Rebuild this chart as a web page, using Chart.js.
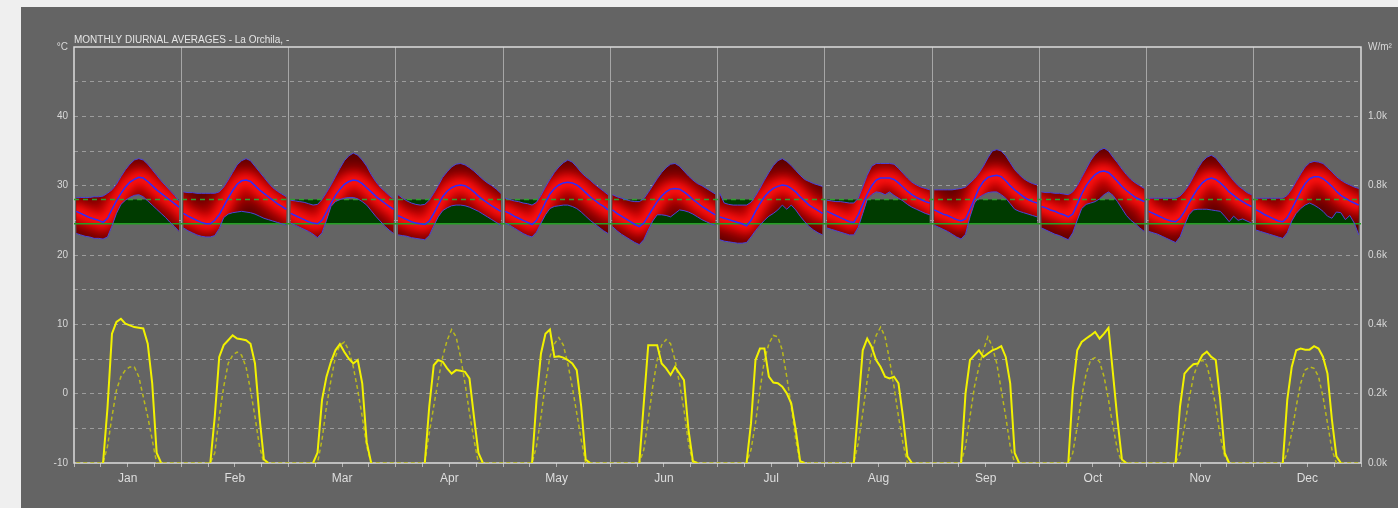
<!DOCTYPE html>
<html>
<head>
<meta charset="utf-8">
<title>Monthly Diurnal Averages - La Orchila</title>
<script src="https://cdn.jsdelivr.net/npm/chart.js@4.4.1/dist/chart.umd.min.js"></script>
<style>
  html, body { margin: 0; padding: 0; background: #efefef; }
  #wrap { width: 1398px; height: 508px; position: relative; }
</style>
</head>
<body>
<div id="wrap"><canvas id="diurnalChart"></canvas></div>
<script>
const titleText = 'MONTHLY DIURNAL AVERAGES - La Orchila, -';
const months = ['Jan', 'Feb', 'Mar', 'Apr', 'May', 'Jun', 'Jul', 'Aug', 'Sep', 'Oct', 'Nov', 'Dec'];
const hours = [0, 1, 2, 3, 4, 5, 6, 7, 8, 9, 10, 11, 12, 13, 14, 15, 16, 17, 18, 19, 20, 21, 22, 23];

// comfort band, deg C
const comfortUpper = 28.0;
const comfortLower = 24.5;

// hourly temperatures per month, deg C
const tempMax = [
    [28.3, 28.3, 28.3, 28.3, 28.4, 28.4, 28.5, 28.9, 29.4, 30.2, 31.3, 32.3, 33.1, 33.7, 33.9, 33.7, 33.1, 32.3, 31.5, 30.7, 30.0, 29.3, 28.6, 27.8],
    [29.1, 29.0, 29.0, 28.9, 28.9, 28.9, 28.9, 28.9, 29.1, 29.8, 30.8, 31.9, 33.0, 33.6, 33.9, 33.6, 32.8, 32.0, 31.2, 30.4, 29.7, 29.2, 28.8, 28.4],
    [27.9, 27.8, 27.7, 27.6, 27.4, 27.2, 27.3, 28.0, 29.0, 30.1, 31.3, 32.5, 33.6, 34.3, 34.7, 34.4, 33.7, 32.8, 31.6, 30.6, 29.8, 29.2, 28.6, 28.1],
    [28.7, 28.2, 27.8, 27.5, 27.3, 27.2, 27.3, 27.9, 28.9, 30.0, 31.2, 32.0, 32.7, 33.1, 33.2, 33.0, 32.6, 32.1, 31.5, 30.9, 30.4, 30.0, 29.5, 28.9],
    [28.2, 28.0, 27.8, 27.7, 27.5, 27.4, 27.2, 27.6, 28.6, 29.8, 30.9, 31.9, 32.7, 33.3, 33.7, 33.4, 32.7, 31.9, 31.3, 30.8, 30.2, 29.7, 29.2, 28.7],
    [28.7, 28.4, 28.2, 28.0, 27.8, 27.7, 27.7, 28.1, 29.0, 30.0, 31.0, 31.9, 32.6, 33.1, 33.2, 32.8, 32.1, 31.4, 30.8, 30.3, 30.0, 29.6, 29.2, 28.8],
    [28.9, 27.5, 27.3, 27.2, 27.2, 27.2, 27.2, 27.6, 28.5, 29.6, 30.8, 31.9, 32.9, 33.6, 33.9, 33.5, 32.9, 32.2, 31.5, 30.9, 30.6, 30.3, 30.1, 29.9],
    [27.9, 27.8, 27.7, 27.7, 27.6, 27.5, 27.5, 28.2, 29.8, 31.5, 32.8, 33.2, 33.2, 33.2, 33.2, 33.1, 32.5, 31.8, 31.1, 30.5, 30.1, 29.8, 29.6, 29.4],
    [29.4, 29.4, 29.4, 29.4, 29.4, 29.5, 29.6, 29.8, 30.4, 31.0, 31.8, 32.8, 34.0, 35.0, 35.2, 35.0, 34.3, 33.3, 32.3, 31.6, 31.0, 30.6, 30.3, 30.1],
    [29.1, 29.0, 29.0, 28.9, 28.9, 28.8, 28.7, 29.1, 30.0, 31.2, 32.4, 33.6, 34.5, 35.1, 35.4, 35.0, 34.1, 33.3, 32.4, 31.6, 30.9, 30.4, 30.0, 29.6],
    [28.2, 28.2, 28.2, 28.2, 28.2, 28.2, 28.2, 28.5, 29.2, 30.1, 31.3, 32.5, 33.5, 34.1, 34.4, 34.0, 33.2, 32.4, 31.5, 30.7, 30.0, 29.5, 29.0, 28.7],
    [28.2, 28.2, 28.2, 28.2, 28.2, 28.2, 28.2, 28.6, 29.5, 30.6, 31.7, 32.7, 33.3, 33.5, 33.4, 33.2, 32.6, 32.0, 31.3, 30.8, 30.4, 30.1, 29.8, 29.6]
];
const tempAvg = [
    [26.3, 26.0, 25.7, 25.4, 25.2, 25.0, 24.7, 25.3, 26.6, 27.8, 28.9, 29.8, 30.5, 30.9, 31.2, 31.1, 30.6, 30.0, 29.4, 28.9, 28.4, 27.9, 27.4, 26.9],
    [26.0, 25.6, 25.3, 25.0, 24.7, 24.5, 24.5, 25.0, 25.8, 27.0, 28.2, 29.3, 30.2, 30.7, 30.8, 30.6, 30.0, 29.4, 28.9, 28.4, 27.9, 27.4, 27.0, 26.6],
    [26.0, 25.7, 25.4, 25.1, 24.8, 24.6, 24.5, 25.0, 26.2, 27.4, 28.6, 29.5, 30.2, 30.6, 30.8, 30.7, 30.3, 29.7, 29.1, 28.5, 28.0, 27.5, 27.0, 26.6],
    [25.7, 25.4, 25.1, 24.8, 24.6, 24.5, 24.4, 24.9, 26.0, 27.2, 28.4, 29.2, 29.7, 30.0, 30.1, 30.0, 29.6, 29.1, 28.5, 28.0, 27.5, 27.1, 26.7, 26.3],
    [26.3, 26.0, 25.6, 25.3, 25.0, 24.7, 24.4, 25.0, 26.2, 27.6, 28.8, 29.6, 30.1, 30.4, 30.5, 30.4, 30.1, 29.6, 29.0, 28.4, 27.9, 27.4, 27.0, 26.5],
    [26.5, 26.0, 25.6, 25.2, 24.8, 24.4, 24.1, 24.6, 25.6, 26.7, 27.7, 28.5, 29.1, 29.5, 29.6, 29.5, 29.1, 28.6, 28.0, 27.5, 27.0, 26.6, 26.2, 25.8],
    [25.5, 25.3, 25.1, 24.9, 24.7, 24.5, 24.2, 25.0, 26.3, 27.4, 28.4, 29.1, 29.6, 29.9, 30.1, 30.0, 29.6, 29.1, 28.4, 27.8, 27.2, 26.8, 26.4, 26.0],
    [26.3, 26.0, 25.7, 25.4, 25.1, 24.8, 24.7, 25.8, 27.3, 28.8, 30.0, 30.8, 31.1, 31.1, 31.1, 30.9, 30.4, 29.8, 29.2, 28.7, 28.3, 28.0, 27.7, 27.5],
    [26.5, 26.2, 25.9, 25.7, 25.4, 25.1, 24.9, 25.2, 26.6, 28.1, 29.6, 30.6, 31.2, 31.4, 31.5, 31.3, 30.7, 30.0, 29.4, 28.9, 28.4, 28.0, 27.7, 27.5],
    [27.0, 26.8, 26.5, 26.3, 26.0, 25.8, 25.5, 25.9, 27.3, 28.8, 30.0, 30.9, 31.6, 32.0, 32.1, 31.9, 31.3, 30.6, 29.9, 29.3, 28.8, 28.3, 28.0, 27.7],
    [26.3, 26.0, 25.7, 25.4, 25.1, 24.9, 24.8, 25.3, 26.3, 27.5, 28.6, 29.6, 30.4, 30.9, 31.1, 30.9, 30.4, 29.8, 29.1, 28.6, 28.1, 27.7, 27.3, 27.0],
    [26.5, 26.2, 25.8, 25.5, 25.2, 24.9, 24.8, 25.4, 26.6, 27.9, 29.2, 30.3, 31.0, 31.3, 31.3, 31.0, 30.5, 29.9, 29.2, 28.6, 28.2, 27.8, 27.5, 27.2]
];
const tempMin = [
    [23.1, 22.9, 22.7, 22.6, 22.4, 22.4, 22.3, 22.6, 24.2, 26.0, 27.3, 27.9, 28.3, 28.6, 28.7, 28.4, 27.8, 27.2, 26.6, 26.0, 25.4, 24.7, 24.1, 23.4],
    [23.9, 23.5, 23.2, 22.9, 22.7, 22.6, 22.6, 22.8, 23.8, 25.4, 25.9, 26.1, 26.2, 26.3, 26.2, 26.1, 25.9, 25.6, 25.3, 25.1, 24.9, 24.7, 24.5, 24.3],
    [24.6, 24.3, 24.0, 23.7, 23.4, 23.0, 22.5, 23.2, 25.0, 27.0, 27.7, 28.0, 28.2, 28.3, 28.3, 28.1, 27.7, 27.2, 26.4, 25.6, 24.9, 24.2, 23.6, 23.1],
    [22.9, 22.8, 22.7, 22.5, 22.4, 22.3, 22.2, 22.8, 24.2, 25.5, 26.4, 26.8, 27.1, 27.2, 27.2, 27.1, 26.9, 26.6, 26.3, 25.9, 25.5, 25.1, 24.7, 24.3],
    [24.6, 24.3, 23.9, 23.5, 23.1, 22.8, 22.6, 23.3, 24.6, 25.8, 26.7, 27.0, 27.1, 27.2, 27.2, 27.0, 26.7, 26.2, 25.6, 25.0, 24.5, 24.0, 23.5, 23.1],
    [24.1, 23.5, 23.0, 22.6, 22.2, 21.8, 21.5, 22.2, 23.6, 24.9, 25.8, 25.8, 25.7, 25.5, 26.0, 26.5, 26.4, 26.2, 25.9, 25.5, 25.1, 24.8, 24.5, 24.3],
    [22.2, 22.0, 21.9, 21.8, 21.7, 21.7, 21.8, 22.6, 23.5, 24.3, 25.0, 25.6, 26.0, 26.5, 27.2, 26.6, 27.2, 26.5, 25.6, 24.8, 24.1, 23.6, 23.2, 22.9],
    [23.9, 23.7, 23.5, 23.3, 23.1, 22.9, 22.9, 24.0, 26.0, 28.0, 28.7, 29.1, 29.0, 28.7, 29.1, 28.6, 28.2, 27.8, 27.3, 26.9, 26.6, 26.3, 26.0, 25.8],
    [24.3, 24.0, 23.7, 23.4, 23.0, 22.6, 22.3, 23.0, 25.5, 27.5, 28.3, 28.7, 29.0, 29.1, 29.1, 28.7, 28.2, 27.4, 26.6, 26.3, 26.1, 25.9, 25.7, 25.5],
    [23.9, 23.6, 23.3, 23.0, 22.8, 22.5, 22.2, 23.2, 25.0, 26.7, 27.3, 27.5, 27.7, 28.1, 28.7, 29.1, 28.6, 27.7, 26.7, 25.7, 25.0, 24.5, 23.9, 23.4],
    [23.4, 23.2, 23.0, 22.7, 22.4, 22.1, 21.8, 22.6, 24.3, 25.8, 26.5, 26.6, 26.6, 26.6, 26.5, 26.4, 26.3, 25.6, 24.8, 25.6, 25.0, 25.2, 24.9, 24.6],
    [23.6, 23.4, 23.2, 23.0, 22.8, 22.6, 22.4, 23.2, 24.9, 26.0, 26.7, 27.2, 27.5, 27.2, 26.8, 26.3, 25.6, 25.3, 26.2, 26.1, 25.1, 25.7, 24.6, 22.9]
];

// hourly solar radiation per month, W/m2
const directSolar = [
    [0, 0, 0, 0, 0, 0, 0, 160, 373, 407, 416, 402, 397, 392, 390, 388, 344, 230, 29, 0, 0, 0, 0, 0],
    [0, 0, 0, 0, 0, 0, 0, 134, 306, 340, 354, 368, 359, 357, 354, 344, 287, 134, 10, 0, 0, 0, 0, 0],
    [0, 0, 0, 0, 0, 0, 30, 182, 249, 292, 325, 343, 320, 301, 287, 297, 230, 60, 0, 0, 0, 0, 0, 0],
    [0, 0, 0, 0, 0, 0, 0, 163, 282, 297, 292, 273, 258, 268, 266, 263, 244, 134, 29, 0, 0, 0, 0, 0],
    [0, 0, 0, 0, 0, 0, 0, 182, 316, 373, 385, 306, 308, 304, 297, 287, 268, 163, 10, 0, 0, 0, 0, 0],
    [0, 0, 0, 0, 0, 0, 0, 172, 340, 340, 340, 287, 273, 254, 277, 258, 239, 96, 5, 0, 0, 0, 0, 0],
    [0, 0, 0, 0, 0, 0, 0, 115, 297, 330, 330, 249, 232, 230, 220, 201, 172, 96, 5, 0, 0, 0, 0, 0],
    [0, 0, 0, 0, 0, 0, 0, 163, 325, 359, 335, 297, 277, 249, 244, 249, 230, 134, 19, 0, 0, 0, 0, 0],
    [0, 0, 0, 0, 0, 0, 0, 201, 297, 311, 325, 306, 316, 325, 330, 337, 306, 230, 29, 0, 0, 0, 0, 0],
    [0, 0, 0, 0, 0, 0, 0, 211, 325, 349, 359, 368, 378, 359, 373, 390, 258, 124, 10, 0, 0, 0, 0, 0],
    [0, 0, 0, 0, 0, 0, 0, 163, 258, 273, 285, 287, 311, 321, 306, 297, 182, 29, 0, 0, 0, 0, 0, 0],
    [0, 0, 0, 0, 0, 0, 0, 182, 277, 325, 330, 327, 327, 337, 330, 306, 258, 124, 19, 0, 0, 0, 0, 0]
];
const diffuseSolar = [
    [0, 0, 0, 0, 0, 0, 0, 48, 134, 210, 249, 268, 277, 277, 249, 191, 134, 67, 0, 0, 0, 0, 0, 0],
    [0, 0, 0, 0, 0, 0, 0, 29, 134, 220, 287, 311, 320, 311, 277, 210, 134, 48, 0, 0, 0, 0, 0, 0],
    [0, 0, 0, 0, 0, 0, 0, 67, 163, 239, 306, 340, 349, 325, 277, 210, 134, 48, 0, 0, 0, 0, 0, 0],
    [0, 0, 0, 0, 0, 0, 0, 86, 163, 239, 306, 354, 385, 364, 306, 230, 144, 67, 0, 0, 0, 0, 0, 0],
    [0, 0, 0, 0, 0, 0, 0, 48, 134, 230, 306, 344, 362, 340, 287, 220, 144, 67, 0, 0, 0, 0, 0, 0],
    [0, 0, 0, 0, 0, 0, 0, 38, 124, 220, 297, 340, 356, 344, 297, 230, 153, 57, 0, 0, 0, 0, 0, 0],
    [0, 0, 0, 0, 0, 0, 0, 38, 115, 210, 297, 344, 368, 364, 325, 249, 163, 67, 0, 0, 0, 0, 0, 0],
    [0, 0, 0, 0, 0, 0, 0, 57, 144, 239, 316, 368, 392, 364, 297, 220, 134, 57, 0, 0, 0, 0, 0, 0],
    [0, 0, 0, 0, 0, 0, 0, 48, 134, 220, 277, 325, 364, 335, 287, 210, 134, 48, 0, 0, 0, 0, 0, 0],
    [0, 0, 0, 0, 0, 0, 0, 29, 105, 191, 258, 297, 304, 292, 249, 182, 105, 38, 0, 0, 0, 0, 0, 0],
    [0, 0, 0, 0, 0, 0, 0, 29, 105, 182, 249, 287, 297, 282, 230, 163, 77, 19, 0, 0, 0, 0, 0, 0],
    [0, 0, 0, 0, 0, 0, 0, 29, 86, 163, 230, 268, 277, 273, 249, 191, 115, 38, 0, 0, 0, 0, 0, 0]
];

// x is hours counted from 1 Jan 00:00 (24 per month); gap = break the line between months
function toPoints(monthly, gap) {
    const pts = [];
    monthly.forEach(function(day, m) {
        hours.forEach(function(h) {
            pts.push({ x: m * 24 + h + 0.5, y: day[h] });
        });
        if (gap) pts.push({ x: m * 24 + 24, y: null });
    });
    return pts;
}

function constantPoints(value) {
    return toPoints(months.map(function() { return hours.map(function() { return value; }); }), true);
}

const IDX_MAX = 9;
const IDX_MIN = 10;

// soft red glow around the average line, clipped to the max/min band
const bandGlow = {
    id: 'bandGlow',
    beforeDatasetDraw(chart, args) {
        const ds = chart.data.datasets[args.index];
        if (!ds.glow) return;
        const ctx = chart.ctx;
        const top = chart.getDatasetMeta(IDX_MAX).data;
        const bot = chart.getDatasetMeta(IDX_MIN).data;
        const raw = chart.data.datasets[IDX_MAX].data;
        ctx.save();
        ctx.beginPath();
        let seg = [];
        const flush = function() {
            if (!seg.length) return;
            ctx.moveTo(top[seg[0]].x, top[seg[0]].y);
            seg.forEach(function(i) { ctx.lineTo(top[i].x, top[i].y); });
            for (let k = seg.length - 1; k >= 0; k--) ctx.lineTo(bot[seg[k]].x, bot[seg[k]].y);
            ctx.closePath();
            seg = [];
        };
        raw.forEach(function(p, i) {
            if (p.y === null) flush(); else seg.push(i);
        });
        flush();
        ctx.clip();
        ctx.filter = 'blur(' + ds.glow + 'px)';
    },
    afterDatasetDraw(chart, args) {
        if (chart.data.datasets[args.index].glow) chart.ctx.restore();
    }
};

const frame = {
    id: 'frame',
    beforeDraw(chart) {
        const ctx = chart.ctx;
        ctx.save();
        ctx.fillStyle = '#efefef';
        ctx.fillRect(0, 0, chart.width, chart.height);
        ctx.fillStyle = '#646464';
        ctx.fillRect(21, 7, chart.width - 21, chart.height - 7);
        ctx.restore();
    },
    beforeDatasetsDraw(chart) {
        const a = chart.chartArea;
        const ctx = chart.ctx;
        ctx.save();
        ctx.strokeStyle = '#dcdcdc';
        ctx.lineWidth = 1.5;
        ctx.strokeRect(a.left, a.top, a.right - a.left, a.bottom - a.top);
        ctx.fillStyle = '#e4e4e4';
        ctx.font = '10px "Liberation Sans", Arial, sans-serif';
        ctx.textBaseline = 'alphabetic';
        ctx.fillText(titleText, a.left, a.top - 4);
        ctx.restore();
    }
};

const red = '#5a0000';
const yellow = '#f2f200';

document.addEventListener('DOMContentLoaded', function() {
    const ctx = document.getElementById('diurnalChart').getContext('2d');
    new Chart(ctx, {
        type: 'line',
        data: {
            datasets: [
                { // 0 direct solar
                    data: toPoints(directSolar, false), yAxisID: 'y2',
                    borderColor: yellow, borderWidth: 2,
                    segment: {
                        borderColor: function(c) {
                            return (c.p0.parsed.y === 0 && c.p1.parsed.y === 0) ? 'rgba(0,0,0,0)' : yellow;
                        }
                    }
                },
                { // 1 diffuse solar
                    data: toPoints(diffuseSolar, false), yAxisID: 'y2',
                    borderColor: '#b9b91c', borderWidth: 1.5, borderDash: [4, 3]
                },
                { // 2 average temperature
                    data: toPoints(tempAvg, true), borderColor: '#2c2cff', borderWidth: 1.5
                },
                { // 3 max outline
                    data: toPoints(tempMax, true), borderColor: '#4a46d8', borderWidth: 1
                },
                { // 4 min outline
                    data: toPoints(tempMin, true), borderColor: '#4a46d8', borderWidth: 1
                },
                { // 5 comfort upper line
                    data: [{ x: 0, y: comfortUpper }, { x: 288, y: comfortUpper }],
                    borderColor: '#2e9e2e', borderWidth: 1.5, borderDash: [5, 4]
                },
                { // 6 comfort lower line
                    data: [{ x: 0, y: comfortLower }, { x: 288, y: comfortLower }],
                    borderColor: '#24a024', borderWidth: 1.5
                },
                { // 7 inner glow
                    data: toPoints(tempAvg, true), glow: 4,
                    borderColor: '#ff1212', borderWidth: 12,
                    borderJoinStyle: 'round', borderCapStyle: 'round'
                },
                { // 8 outer glow
                    data: toPoints(tempAvg, true), glow: 7,
                    borderColor: '#c00000', borderWidth: 28,
                    borderJoinStyle: 'round', borderCapStyle: 'round'
                },
                { // 9 max (band)
                    data: toPoints(tempMax, true), borderWidth: 0,
                    fill: IDX_MIN, backgroundColor: red
                },
                { // 10 min (band)
                    data: toPoints(tempMin, true), borderWidth: 0
                },
                { // 11 comfort zone
                    data: constantPoints(comfortUpper), borderWidth: 0,
                    fill: { value: comfortLower }, backgroundColor: '#003b00'
                }
            ]
        },
        options: {
            responsive: true,
            maintainAspectRatio: false,
            animation: false,
            events: [],
            layout: { padding: { top: 47, left: 0, right: 0, bottom: 0 } },
            elements: { point: { radius: 0 }, line: { tension: 0 } },
            plugins: {
                legend: { display: false },
                tooltip: { enabled: false }
            },
            scales: {
                x: {
                    type: 'linear', min: 0, max: 288,
                    afterFit: function(s) { s.height = 45; },
                    border: { display: false },
                    grid: {
                        color: function(c) {
                            const v = c.tick ? c.tick.value : 0;
                            return (v % 24 === 0 && v > 0 && v < 288) ? '#a6a6a6' : 'rgba(0,0,0,0)';
                        },
                        tickColor: '#b4b4b4', tickLength: 4, lineWidth: 1
                    },
                    ticks: {
                        stepSize: 6, autoSkip: false, maxRotation: 0, padding: 4,
                        color: '#dedede',
                        font: { family: '"Liberation Sans", Arial, sans-serif', size: 12 },
                        callback: function(v) { return v % 24 === 12 ? months[(v - 12) / 24] : ''; }
                    }
                },
                y: {
                    position: 'left', min: -10, max: 50,
                    afterFit: function(s) { s.width = 74; },
                    border: { display: false, dash: [4, 4] },
                    grid: {
                        color: function(c) {
                            const v = c.tick ? c.tick.value : 0;
                            return (v === -10 || v === 50) ? 'rgba(0,0,0,0)' : '#9c9c9c';
                        },
                        drawTicks: false
                    },
                    ticks: {
                        stepSize: 5, padding: 6, color: '#d8d8d8',
                        font: { family: '"Liberation Sans", Arial, sans-serif', size: 10 },
                        callback: function(v) { return v === 50 ? '°C' : (v % 10 === 0 ? String(v) : ''); }
                    }
                },
                y2: {
                    position: 'right', min: 0, max: 1200,
                    afterFit: function(s) { s.width = 37; },
                    border: { display: false },
                    grid: { display: false, drawTicks: false },
                    ticks: {
                        stepSize: 200, padding: 7, color: '#d8d8d8',
                        font: { family: '"Liberation Sans", Arial, sans-serif', size: 10 },
                        callback: function(v) { return v === 1200 ? 'W/m²' : (v / 1000).toFixed(1) + 'k'; }
                    }
                }
            }
        },
        plugins: [frame, bandGlow]
    });
});
</script>
</body>
</html>
